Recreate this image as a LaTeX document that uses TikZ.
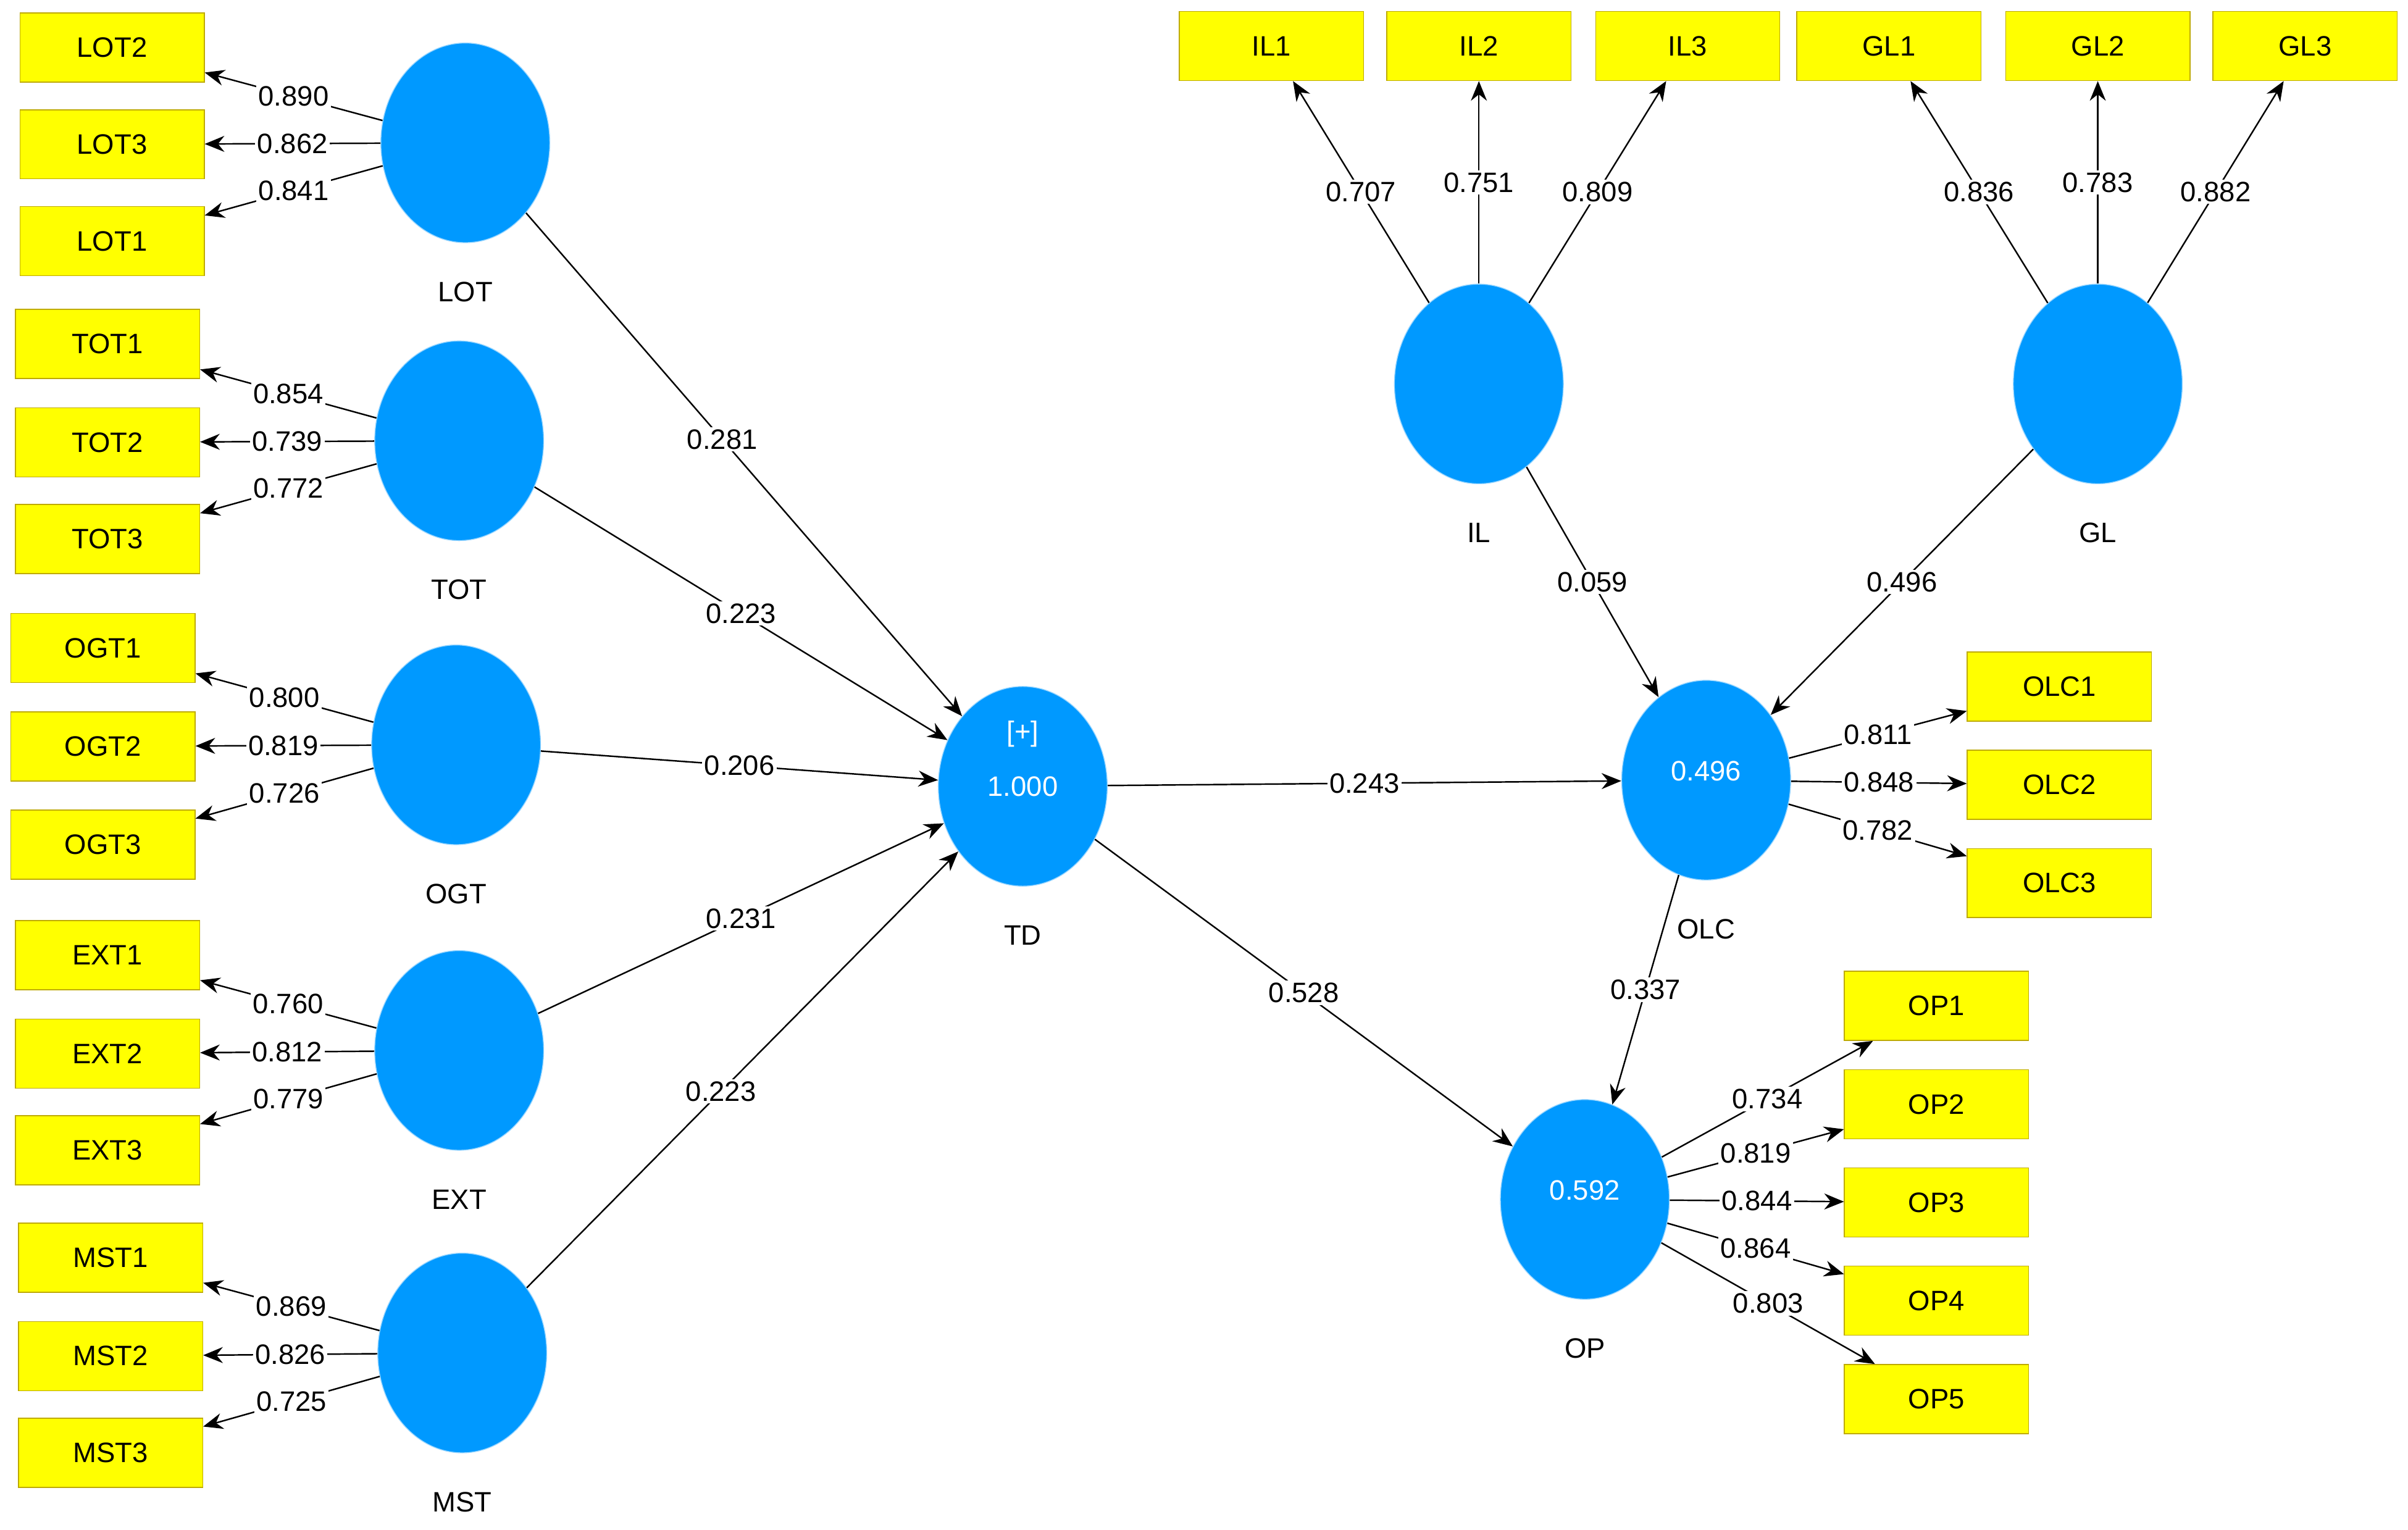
\documentclass[tikz,border=0pt]{standalone}
\usepackage{fontspec}
\setmainfont{Liberation Sans}
\usepackage{tikz}
\usetikzlibrary{arrows.meta,shapes.geometric}
\definecolor{lvBlue}{RGB}{0,153,255}
\definecolor{indYellow}{RGB}{255,255,0}
\definecolor{indBorder}{RGB}{190,170,0}
\begin{document}
\begin{tikzpicture}[x=0.025cm,y=-0.025cm,
			lvStyle/.style={ellipse, fill=lvBlue, draw=lvBlue!40, thin, minimum width=2.75cm, minimum height=3.25cm, inner sep=0pt, text=white, font=\fontsize{13}{15}\selectfont},
			indStyle/.style={draw=indBorder, fill=indYellow, minimum width=3cm, minimum height=1.125cm, font=\fontsize{13}{15}\selectfont},
			lvName/.style={font=\fontsize{13}{15}\selectfont},
			coef/.style={fill=white, inner sep=1pt, font=\fontsize{13}{15}\selectfont},
			arrowStyle/.style={-{Stealth[length=3.2mm,width=2.6mm]}, line width=0.7pt}]
			
			\useasboundingbox (0,0) rectangle (1568,996);
			
			% latent variables
			\foreach \lv/\x/\y in {LOT/303/93, TOT/299/287, OGT/297/485, EXT/299/684, MST/301/881, TD/666/512, IL/963/250, GL/1366/250, OLC/1111/508, OP/1032/781}
			{
				\node[lvStyle] (\lv) at (\x,\y) {};
				\node[lvName] at (\x,\y+97) {\lv};
			}
			\node[text=white, font=\fontsize{13}{15}\selectfont] at (666,512) {1.000};
			\node[text=white, font=\fontsize{13}{15}\selectfont] at (666,478) {[+]};
			\node[text=white, font=\fontsize{13}{15}\selectfont] at (1111,502) {0.496};
			\node[text=white, font=\fontsize{13}{15}\selectfont] at (1032,775) {0.592};
			
			% indicators
			\foreach \ind/\x/\y in {LOT2/73/31, LOT3/73/94, LOT1/73/157, TOT1/70/224, TOT2/70/288, TOT3/70/351,
				OGT1/67/422, OGT2/67/486, OGT3/67/550, EXT1/70/622, EXT2/70/686, EXT3/70/749,
				MST1/72/819, MST2/72/883, MST3/72/946, IL1/828/30, IL2/963/30, IL3/1099/30,
				GL1/1230/30, GL2/1366/30, GL3/1501/30, OLC1/1341/447, OLC2/1341/511, OLC3/1341/575,
				OP1/1261/655, OP2/1261/719, OP3/1261/783, OP4/1261/847, OP5/1261/911}
			\node[indStyle] (\ind) at (\x,\y) {\ind};
			
			% outer loadings
			\foreach \lv/\ind/\val in {LOT/LOT2/0.890, LOT/LOT3/0.862, LOT/LOT1/0.841,
				TOT/TOT1/0.854, TOT/TOT2/0.739, TOT/TOT3/0.772,
				OGT/OGT1/0.800, OGT/OGT2/0.819, OGT/OGT3/0.726,
				EXT/EXT1/0.760, EXT/EXT2/0.812, EXT/EXT3/0.779,
				MST/MST1/0.869, MST/MST2/0.826, MST/MST3/0.725,
				IL/IL1/0.707, IL/IL2/0.751, IL/IL3/0.809,
				GL/GL1/0.836, GL/GL2/0.783, GL/GL3/0.882,
				OLC/OLC1/0.811, OLC/OLC2/0.848, OLC/OLC3/0.782,
				OP/OP1/0.734, OP/OP2/0.819, OP/OP3/0.844, OP/OP4/0.864, OP/OP5/0.803}
			\draw[arrowStyle] (\lv) -- node[coef]{\val} (\ind);
			
			% path coefficients
			\foreach \from/\to/\val/\p in {LOT/TD/0.281/0.45, TOT/TD/0.223/0.5, OGT/TD/0.206/0.5, EXT/TD/0.231/0.5, MST/TD/0.223/0.45,
				TD/OLC/0.243/0.5, TD/OP/0.528/0.5, IL/OLC/0.059/0.5, GL/OLC/0.496/0.5, OLC/OP/0.337/0.5}
			\draw[arrowStyle] (\from) -- node[coef, pos=\p]{\val} (\to);
		\end{tikzpicture}
\end{document}
